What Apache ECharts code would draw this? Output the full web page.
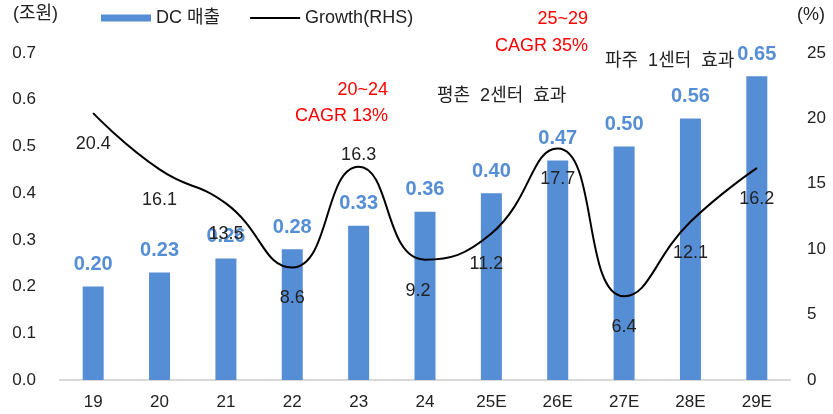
<!DOCTYPE html>
<html><head><meta charset="utf-8">
<script src="https://cdn.jsdelivr.net/npm/echarts@6/dist/echarts.min.js"></script>
<style>html,body{margin:0;padding:0;background:#fff}#c{width:833px;height:414px}</style>
</head><body><div id="c"></div>
<script>
const categories = ['19','20','21','22','23','24','25E','26E','27E','28E','29E'];
const salesDC = [0.20, 0.23, 0.26, 0.28, 0.33, 0.36, 0.40, 0.47, 0.50, 0.56, 0.65];
const growth = [20.4, 16.1, 13.5, 8.6, 16.3, 9.2, 11.2, 17.7, 6.4, 12.1, 16.2];
const leftTicks = [0, 0.1, 0.2, 0.3, 0.4, 0.5, 0.6, 0.7];
const rightTicks = [0, 5, 10, 15, 20, 25];
const seriesNames = ['DC 매출', 'Growth(RHS)'];

const FONT = "'Liberation Sans', 'Noto Sans CJK KR', Arial, sans-serif";
const BLUE = '#558ED5';
const labelShift = {4: [0, -12], 5: [-7, 31], 6: [-5, 31]};

const chart = echarts.init(document.getElementById('c'));
chart.setOption({
  animation: false,
  textStyle: {fontFamily: FONT},
  grid: {left: 60, right: 43, top: 53, bottom: 34},
  legend: {
    left: 96, top: 4, itemWidth: 50, itemHeight: 7, itemGap: 30,
    textStyle: {fontSize: 18, color: '#222', fontFamily: FONT},
    data: [
      {name: seriesNames[0], icon: 'rect'},
      {name: seriesNames[1], icon: 'path://M0,0 L50,0 L50,2 L0,2 Z', itemStyle: {color: '#000'}}
    ]
  },
  xAxis: {
    type: 'category', data: categories,
    axisLine: {lineStyle: {color: '#d9d9d9', width: 2}},
    axisTick: {show: false},
    axisLabel: {color: '#222', fontSize: 17, margin: 14, fontFamily: FONT}
  },
  yAxis: [
    {type: 'value', min: leftTicks[0], max: leftTicks[leftTicks.length-1], interval: 0.1,
     splitLine: {show: false}, axisLine: {show: false}, axisTick: {show: false},
     axisLabel: {color: '#222', fontSize: 17, margin: 24, formatter: v => v.toFixed(1), fontFamily: FONT}},
    {type: 'value', min: rightTicks[0], max: rightTicks[rightTicks.length-1], interval: 5,
     splitLine: {show: false}, axisLine: {show: false}, axisTick: {show: false},
     axisLabel: {color: '#222', fontSize: 17, margin: 17, align: 'left', fontFamily: FONT}}
  ],
  series: [
    {name: seriesNames[0], type: 'bar', data: salesDC, barWidth: 21,
     itemStyle: {color: BLUE},
     label: {show: true, position: 'top', distance: 12, color: BLUE, fontSize: 20, fontWeight: 'bold',
             formatter: p => p.value.toFixed(2), fontFamily: FONT}},
    {name: seriesNames[1], type: 'line', yAxisIndex: 1, smooth: 0.5,
     symbol: 'circle', symbolSize: 1, itemStyle: {color: '#000'},
     lineStyle: {color: '#000', width: 2}, z: 5,
     data: growth.map((v, i) => ({value: v, label: {offset: labelShift[i] || [0, 31]}})),
     label: {show: true, position: 'inside', color: '#222', fontSize: 18, fontFamily: FONT,
             formatter: p => p.value.toFixed(1)}}
  ],
  graphic: [
    {type: 'text', left: 13, top: 5, style: {text: '(조원)', fill: '#222', font: '18px ' + FONT}},
    {type: 'text', left: 797, top: 6, style: {text: '(%)', fill: '#222', font: '18px ' + FONT}},
    {type: 'text', right: 833-388, top: 81, style: {text: '20~24', fill: '#FF0000', font: '18px ' + FONT, align: 'right'}},
    {type: 'text', right: 833-388, top: 107, style: {text: 'CAGR 13%', fill: '#FF0000', font: '18px ' + FONT, align: 'right'}},
    {type: 'text', right: 833-588, top: 10, style: {text: '25~29', fill: '#FF0000', font: '18px ' + FONT, align: 'right'}},
    {type: 'text', right: 833-588, top: 37, style: {text: 'CAGR 35%', fill: '#FF0000', font: '18px ' + FONT, align: 'right'}},
    {type: 'text', left: 437, top: 87, style: {text: '평촌  2센터  효과', fill: '#222', font: '18px ' + FONT}},
    {type: 'text', left: 605, top: 52, style: {text: '파주  1센터  효과', fill: '#222', font: '18px ' + FONT}}
  ]
});
</script>
</body></html>
